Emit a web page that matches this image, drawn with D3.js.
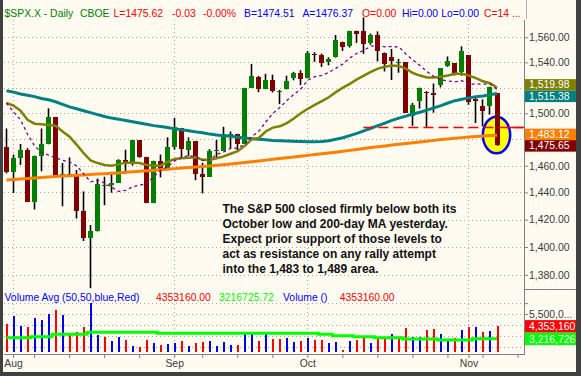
<!DOCTYPE html>
<html>
<head>
<meta charset="utf-8">
<script src="https://cdn.jsdelivr.net/npm/d3@7"></script>
<style>
  html, body { margin: 0; padding: 0; background: #404040; }
  svg { display: block; font-family: "Liberation Sans", Arial, sans-serif; }
</style>
</head>
<body>
<svg id="chart" width="581" height="376"></svg>
<script>
// $SPX.X daily bars, Jul 31 - Nov 7 2007
const days = [
  '2007-07-31','2007-08-01','2007-08-02','2007-08-03','2007-08-06','2007-08-07','2007-08-08','2007-08-09','2007-08-10','2007-08-13',
  '2007-08-14','2007-08-15','2007-08-16','2007-08-17','2007-08-20','2007-08-21','2007-08-22','2007-08-23','2007-08-24','2007-08-27',
  '2007-08-28','2007-08-29','2007-08-30','2007-08-31','2007-09-04','2007-09-05','2007-09-06','2007-09-07','2007-09-10','2007-09-11',
  '2007-09-12','2007-09-13','2007-09-14','2007-09-17','2007-09-18','2007-09-19','2007-09-20','2007-09-21','2007-09-24','2007-09-25',
  '2007-09-26','2007-09-27','2007-09-28','2007-10-01','2007-10-02','2007-10-03','2007-10-04','2007-10-05','2007-10-08','2007-10-09',
  '2007-10-10','2007-10-11','2007-10-12','2007-10-15','2007-10-16','2007-10-17','2007-10-18','2007-10-19','2007-10-22','2007-10-23',
  '2007-10-24','2007-10-25','2007-10-26','2007-10-29','2007-10-30','2007-10-31','2007-11-01','2007-11-02','2007-11-05','2007-11-06',
  '2007-11-07'
];
const futureDays = ['2007-11-08', '2007-11-09', '2007-11-12'];

const opens = [
  1473.90,1455.18,1465.46,1472.18,1433.04,1467.62,1476.22,1497.21,1453.09,1453.42,
  1452.87,1426.15,1406.64,1411.26,1445.55,1445.55,1447.03,1464.05,1462.34,1479.36,
  1466.72,1432.01,1463.67,1457.61,1473.96,1488.76,1472.03,1478.55,1453.50,1451.69,
  1471.10,1471.47,1483.95,1484.24,1476.63,1519.75,1528.69,1518.75,1525.75,1516.34,
  1518.62,1527.32,1531.24,1527.29,1546.96,1545.80,1539.91,1543.84,1556.51,1553.18,
  1564.98,1564.72,1555.41,1562.25,1547.81,1544.44,1539.29,1540.00,1497.79,1509.30,
  1516.61,1516.15,1522.17,1536.92,1539.42,1532.15,1545.79,1511.07,1505.61,1505.33,
  1515.46
];
const highs = [
  1488.30,1468.38,1476.43,1473.23,1467.67,1488.30,1503.89,1497.21,1462.02,1466.29,
  1456.74,1440.78,1415.97,1450.33,1451.75,1455.32,1464.86,1472.06,1479.40,1479.36,
  1466.72,1463.76,1468.43,1481.47,1496.40,1488.76,1481.49,1478.55,1462.25,1472.48,
  1479.50,1489.58,1485.99,1484.24,1519.89,1538.74,1529.14,1530.89,1530.18,1518.27,
  1529.39,1532.46,1533.74,1549.02,1548.01,1546.99,1544.02,1561.91,1556.51,1565.26,
  1565.42,1576.09,1563.03,1564.74,1547.81,1550.66,1542.79,1540.00,1508.06,1520.01,
  1517.23,1523.24,1535.53,1544.67,1539.42,1552.76,1545.79,1513.15,1510.84,1520.77,
  1515.46
];
const lows = [
  1454.25,1439.59,1460.58,1432.80,1427.39,1455.80,1476.22,1453.09,1429.74,1451.54,
  1420.78,1404.36,1370.60,1411.26,1430.54,1439.76,1447.03,1453.88,1460.11,1465.98,
  1432.01,1432.01,1451.25,1457.61,1472.15,1466.34,1467.41,1449.07,1439.29,1451.69,
  1465.75,1471.47,1473.18,1471.82,1476.63,1519.75,1516.42,1518.75,1516.15,1507.13,
  1518.62,1525.81,1521.99,1527.25,1540.37,1536.34,1537.63,1543.84,1549.00,1551.82,
  1555.46,1546.72,1554.09,1540.81,1532.74,1526.01,1531.76,1500.26,1490.40,1503.61,
  1489.56,1500.46,1520.18,1536.43,1529.55,1529.40,1506.66,1492.53,1489.95,1499.07,
  1475.04
];
const closes = [
  1455.27,1465.81,1472.20,1433.06,1467.67,1476.71,1497.49,1453.09,1453.64,1452.92,
  1426.54,1406.70,1411.27,1445.94,1445.55,1447.12,1464.07,1462.50,1479.37,1466.79,
  1432.36,1463.76,1457.64,1473.99,1489.42,1472.29,1478.55,1453.55,1451.70,1471.49,
  1471.56,1483.95,1484.25,1476.65,1519.78,1529.03,1518.75,1525.75,1517.73,1517.21,
  1525.42,1531.38,1526.75,1547.04,1546.63,1539.59,1542.84,1557.59,1552.58,1565.15,
  1562.47,1554.41,1561.80,1548.71,1538.53,1541.24,1540.08,1500.63,1506.33,1519.59,
  1515.88,1514.40,1535.28,1540.98,1531.02,1549.38,1508.44,1509.65,1502.17,1520.27,
  1475.62
];
// volume, millions (as shown by the chart)
const volumes = [
  4.58,5.32,4.40,4.33,5.13,4.95,5.50,5.87,5.41,3.78,
  3.84,4.28,6.49,3.57,3.35,3.01,3.35,3.11,2.55,2.43,
  3.11,2.86,2.65,2.74,2.86,3.01,2.58,2.80,2.89,3.01,
  2.55,2.89,2.65,2.65,3.78,3.84,3.01,3.78,3.20,3.20,
  3.29,2.95,3.01,3.29,3.11,3.11,2.80,2.89,2.18,3.01,
  3.11,3.32,2.86,3.23,3.29,3.69,3.20,4.21,3.38,3.38,
  4.03,4.12,3.66,3.20,3.29,4.03,4.30,4.30,3.84,3.94,
  4.353
];
const volAvg50 = [
  3.32,3.32,3.32,3.32,3.41,3.41,3.41,3.63,3.63,3.63,
  3.63,3.63,3.82,3.82,3.82,3.82,3.82,3.82,3.82,3.82,
  3.82,3.82,3.72,3.72,3.72,3.72,3.72,3.72,3.72,3.72,
  3.72,3.72,3.72,3.72,3.72,3.72,3.72,3.72,3.72,3.72,
  3.72,3.72,3.72,3.72,3.72,3.63,3.63,3.50,3.50,3.50,
  3.41,3.41,3.41,3.32,3.32,3.32,3.32,3.20,3.20,3.20,
  3.20,3.20,3.11,3.11,3.11,3.11,3.11,3.22,3.22,3.22,
  3.22
];
// moving averages
const ma10 = [
  1508,1501,1495,1484,1475,1470,1468,1466,1464,1462.8,
  1459.9,1454.0,1447.9,1449.2,1447.0,1444.0,1440.7,1441.6,1444.2,1445.6,
  1446.2,1451.9,1456.5,1459.3,1463.7,1466.2,1467.7,1466.8,1464.0,1464.5,
  1468.4,1470.4,1473.1,1473.3,1476.4,1482.1,1486.1,1493.3,1499.9,1504.5,
  1509.9,1514.6,1518.9,1525.9,1528.6,1529.6,1532.0,1535.2,1538.7,1543.5,
  1547.2,1549.5,1553.0,1553.2,1552.4,1552.5,1552.3,1546.6,1541.9,1537.4,
  1532.7,1528.7,1526.1,1525.3,1524.5,1525.4,1522.2,1523.1,1522.7,1522.8,
  1518.7
];
const ma20 = [
  1508,1506,1502,1495,1492,1491.5,1491,1490.5,1486,1482,
  1476,1469.5,1464,1462,1460.5,1460,1461,1462.3,1462.3,1462,
  1460.5,1460,1460,1463,1465,1465.6,1466,1466.4,1464.4,1464.5,
  1465.6,1467,1469,1471,1475,1480,1481,1486,1489,1490,
  1492.5,1496,1500,1503.5,1506.5,1509.5,1512.5,1516.5,1520,1523,
  1526.5,1529.5,1532.5,1535,1536.5,1537.5,1537,1535,1531.5,1529.5,
  1528,1528,1528.5,1529.5,1531,1531,1529.5,1527.5,1525,1523.5,
  1520
];
const ma50 = [
  1517.5,1516.5,1515.0,1514.0,1513.0,1511.5,1510.5,1509.0,1507.0,1505.0,
  1503.5,1502.0,1500.5,1499.0,1497.5,1496.3,1495.5,1494.5,1493.5,1492.5,
  1491.5,1490.5,1489.8,1489.0,1488.0,1487.3,1486.5,1485.7,1485.0,1484.0,
  1483.3,1482.8,1482.3,1481.6,1481.0,1480.5,1480.0,1479.6,1479.2,1479.0,
  1478.8,1478.6,1478.4,1478.2,1478.1,1478.3,1479.0,1480.0,1481.2,1482.8,
  1484.5,1486.5,1488.5,1490.5,1492.5,1494.5,1496.3,1497.8,1499.5,1500.8,
  1502.5,1504.2,1506.0,1508.0,1509.8,1511.0,1512.0,1512.8,1513.5,1514.4,
  1515.4
];
const ma200 = [
  1449.3,1449.6,1450.0,1450.4,1450.8,1451.1,1451.5,1451.9,1452.2,1452.5,
  1452.8,1453.1,1453.4,1453.7,1454.0,1454.3,1454.6,1455.0,1455.4,1455.8,
  1456.2,1456.6,1457.0,1457.4,1457.8,1458.2,1458.6,1459.0,1459.4,1459.8,
  1460.3,1460.8,1461.3,1461.8,1462.4,1463.0,1463.6,1464.2,1464.8,1465.4,
  1466.0,1466.6,1467.2,1467.8,1468.4,1469.0,1469.6,1470.2,1470.9,1471.6,
  1472.3,1473.0,1473.7,1474.4,1475.0,1475.6,1476.2,1476.8,1477.4,1478.0,
  1478.6,1479.2,1479.8,1480.3,1480.8,1481.3,1481.8,1482.2,1482.6,1482.9,
  1483.1
];

const priceTicks = [1380, 1400, 1420, 1440, 1460, 1480, 1500, 1520, 1540, 1560];
const volGridTicks = [2.5, 3.5, 4.5, 5.5, 6.5];
const volAxisTicks = [5.5, 6.5];

const supportLevel = 1489.5;
const supportFrom = '2007-10-11';
const circled = { from: 68.05, to: 71.95, lo: 1469.4, hi: 1497.4 };

const priceBadges = [
  { v: 1519.98, text: '1,519.98', color: '#808000' },
  { v: 1515.38, text: '1,515.38', color: '#008080' },
  { v: 1483.12, text: '1,483.12', color: '#ff8000' },
  { v: 1475.65, text: '1,475.65', color: '#800000' }
];
const volBadges = [
  { v: 4.35316, text: '4,353,160', color: '#ff0000' },
  { v: 3.216726, text: '3,216,726', color: '#00ff00' }
];

const titleItems = [
  ['$SPX.X - Daily', '#008000'], ['CBOE', '#008000'], ['L=1475.62', '#ff0000'],
  ['-0.03', '#ff0000'], ['-0.00%', '#ff0000'], ['B=1474.51', '#0000ff'],
  ['A=1476.37', '#0000ff'], ['O=0.00', '#ff0000'], ['Hi=0.00', '#0000ff'],
  ['Lo=0.00', '#0000ff'], ['C=14 ...', '#ff0000']
];
const volItems = [
  ['Volume Avg (50,50,blue,Red)', '#0000ff'], ['4353160.00', '#ff0000'],
  ['3216725.72', '#00ff00'], ['Volume ()', '#0000ff'], ['4353160.00', '#ff0000']
];
const noteLines = [
  'The S&P 500 closed firmly below both its',
  'October low and 200-day MA yesterday.',
  'Expect prior support of those levels to',
  'act as resistance on any rally attempt',
  'into the 1,483 to 1,489 area.'
];

// ---- layout ----
const W = 581, H = 376;
const plotL = 4, plotR = 524, frameR = 576;
const priceTop = 20, priceBot = 289, volBot = 352, axisY = 354;
const titleX = [4.5, 80, 113.6, 172, 203, 244, 302.4, 362, 402, 441.3, 484];
const volItemX = [4.5, 156, 219, 283, 339.7];
const fontSize = 10.4;

const svg = d3.select('#chart');
svg.append('rect').attr('width', W).attr('height', H).attr('fill', '#fffbf0');

const x = d3.scaleLinear().domain([0, days.length - 1]).range([6, 496.5]);
const y = d3.scaleLog().domain([1370, 1574]).range([priceBot, priceTop]);
const yv = d3.scaleLinear().domain([2.0, 7.806]).range([volBot, priceBot]);
const col = i => Math.round(x(i));

const parse = d3.timeParse('%Y-%m-%d');
const axisDays = days.concat(futureDays).map(parse);
const monthIdx = [], weekIdx = [];
axisDays.forEach((d, i) => {
  if (i === 0) return;
  const p = axisDays[i - 1];
  if (d.getMonth() !== p.getMonth()) monthIdx.push(i);
  if (+d3.timeMonday.floor(d) !== +d3.timeMonday.floor(p)) weekIdx.push(i);
});
const tickIdx = Array.from(new Set(weekIdx.concat(monthIdx))).sort((a, b) => a - b);

// grid
const grid = svg.append('g')
  .attr('stroke', '#a9a9a9').attr('stroke-width', 1).attr('stroke-dasharray', '1,3');
grid.selectAll('.hp').data(priceTicks).enter().append('line')
  .attr('x1', plotL).attr('x2', plotR)
  .attr('y1', d => Math.round(y(d)) + 0.5).attr('y2', d => Math.round(y(d)) + 0.5);
grid.selectAll('.hv').data(volGridTicks).enter().append('line')
  .attr('x1', plotL).attr('x2', plotR)
  .attr('y1', d => Math.round(yv(d)) + 0.5).attr('y2', d => Math.round(yv(d)) + 0.5);
grid.selectAll('.vm').data(monthIdx).enter().append('line')
  .attr('x1', d => col(d) + 0.5).attr('x2', d => col(d) + 0.5)
  .attr('y1', priceTop).attr('y2', volBot);

// circled last bar
svg.append('ellipse')
  .attr('cx', (x(circled.from) + x(circled.to)) / 2)
  .attr('cy', (y(circled.lo) + y(circled.hi)) / 2)
  .attr('rx', (x(circled.to) - x(circled.from)) / 2)
  .attr('ry', (y(circled.lo) - y(circled.hi)) / 2)
  .attr('fill', '#ffff00').attr('stroke', '#0000ff').attr('stroke-width', 2.5);

// candles
const idx = d3.range(days.length);
const candles = svg.append('g');
candles.selectAll('line').data(idx).enter().append('line')
  .attr('x1', i => col(i) + 0.5).attr('x2', i => col(i) + 0.5)
  .attr('y1', i => y(highs[i])).attr('y2', i => y(lows[i]))
  .attr('stroke', '#000').attr('stroke-width', 1.6);
candles.selectAll('rect').data(idx).enter().append('rect')
  .attr('x', i => col(i) - 2).attr('width', 5)
  .attr('y', i => Math.round(y(Math.max(opens[i], closes[i]))))
  .attr('height', i => Math.max(1, Math.round(y(Math.min(opens[i], closes[i]))) - Math.round(y(Math.max(opens[i], closes[i])))))
  .attr('fill', i => closes[i] >= opens[i] ? '#008000' : '#800000')
  .attr('shape-rendering', 'crispEdges');

// moving averages
const maLine = d3.line().x((d, i) => x(i) + 0.5).y(d => y(d));
svg.append('path').attr('d', maLine(ma200)).attr('fill', 'none')
  .attr('stroke', '#ff8000').attr('stroke-width', 3);
svg.append('path').attr('d', maLine(ma50)).attr('fill', 'none')
  .attr('stroke', '#008080').attr('stroke-width', 3);
svg.append('path').attr('d', maLine(ma20)).attr('fill', 'none')
  .attr('stroke', '#808000').attr('stroke-width', 2.5);
svg.append('path').attr('d', maLine(ma10)).attr('fill', 'none')
  .attr('stroke', '#800080').attr('stroke-width', 1.3).attr('stroke-dasharray', '3,3');

// support line at the October low
const sy = Math.round(y(supportLevel)) + 0.5;
svg.append('line')
  .attr('x1', x(days.indexOf(supportFrom))).attr('x2', plotR)
  .attr('y1', sy).attr('y2', sy)
  .attr('stroke', '#ff0000').attr('stroke-width', 1.5).attr('stroke-dasharray', '10,5');
svg.append('line')
  .attr('x1', x(days.length - 1) + 10).attr('x2', plotR)
  .attr('y1', sy).attr('y2', sy)
  .attr('stroke', '#ff0000').attr('stroke-width', 1.5);

// volume
svg.append('g').selectAll('rect').data(idx).enter().append('rect')
  .attr('x', i => col(i)).attr('width', 2)
  .attr('y', i => Math.round(yv(volumes[i])))
  .attr('height', i => volBot - Math.round(yv(volumes[i])))
  .attr('fill', i => (i > 0 && closes[i] <= closes[i - 1]) || (i === 0 && closes[i] < opens[i]) ? '#ff0000' : '#0000ff')
  .attr('shape-rendering', 'crispEdges');
svg.append('path')
  .attr('d', d3.line().curve(d3.curveStep).x((d, i) => x(i) + 0.5).y(d => yv(d))(volAvg50))
  .attr('fill', 'none').attr('stroke', '#00ff00').attr('stroke-width', 3);

// value badges on the right axis; neighbours that collide are pushed apart
function placeBadges(list, scale, h) {
  const items = list.map(b => Object.assign({ cy: scale(b.v), h: h }, b))
    .sort((a, b) => a.cy - b.cy);
  for (let k = 1; k < items.length; k++) {
    const overlap = items[k - 1].cy + h - items[k].cy;
    if (overlap > 0) {
      items[k - 1].cy -= overlap / 2;
      items[k].cy += overlap / 2;
    }
  }
  return items;
}
const badgeItems = placeBadges(priceBadges, y, 11.5).concat(placeBadges(volBadges, yv, 12.5));

// axes
const axisColor = '#808080', textColor = '#3a3a3a';
const yAxis = svg.append('g').attr('transform', `translate(${plotR},0)`)
  .call(d3.axisRight(y).tickValues(priceTicks).tickSize(4).tickPadding(1)
    .tickFormat(d3.format(',.2f')));
const vAxis = svg.append('g').attr('transform', `translate(${plotR},0)`)
  .call(d3.axisRight(yv).tickValues(volAxisTicks).tickSize(4).tickPadding(1)
    .tickFormat(v => v === 5.5 ? d3.format(',')(v * 1e6).slice(0, 7) + '...' : ''));
const xAxis = svg.append('g').attr('transform', `translate(0,${axisY})`)
  .call(d3.axisBottom(x).tickValues(tickIdx).tickSize(4).tickPadding(2)
    .tickFormat(i => monthIdx.includes(i) ? d3.timeFormat('%b')(axisDays[i]) : ''));
[yAxis, vAxis, xAxis].forEach(g => {
  g.select('.domain').remove();
  g.selectAll('line').attr('stroke', axisColor);
  g.selectAll('text').attr('fill', textColor).attr('font-size', fontSize)
    .attr('font-family', '"Liberation Sans", Arial, sans-serif');
});
// price labels that sit under a value badge are hidden by it
yAxis.selectAll('.tick').filter(p => badgeItems.some(b =>
  Math.abs(y(p) - b.cy) < b.h / 2 + 5)).select('text').remove();

svg.append('line').attr('x1', plotR + 0.5).attr('x2', plotR + 0.5)
  .attr('y1', priceTop).attr('y2', axisY).attr('stroke', axisColor);
svg.append('line').attr('x1', plotL).attr('x2', plotR + 1)
  .attr('y1', axisY + 0.5).attr('y2', axisY + 0.5).attr('stroke', axisColor);
svg.append('line').attr('x1', plotR).attr('x2', frameR)
  .attr('y1', priceBot + 0.5).attr('y2', priceBot + 0.5).attr('stroke', axisColor);
svg.append('line').attr('x1', 526.5).attr('x2', 526.5)
  .attr('y1', 0).attr('y2', priceTop - 1).attr('stroke', '#b0b0b0');

const badgeG = svg.append('g');
badgeItems.forEach(b => {
  const top = b.cy - b.h / 2;
  badgeG.append('rect').attr('x', plotR + 1).attr('width', frameR - plotR - 1)
    .attr('y', top).attr('height', b.h).attr('fill', b.color);
  badgeG.append('text').attr('x', 529).attr('y', top + b.h - 2.4)
    .attr('fill', '#ffffff').attr('font-size', fontSize).text(b.text);
});

// header texts
svg.append('g').selectAll('text').data(titleItems).enter().append('text')
  .attr('x', (d, i) => titleX[i]).attr('y', 16.5)
  .attr('font-size', fontSize).attr('fill', d => d[1]).text(d => d[0]);
svg.append('g').selectAll('text').data(volItems).enter().append('text')
  .attr('x', (d, i) => volItemX[i]).attr('y', 301)
  .attr('font-size', fontSize).attr('fill', d => d[1]).text(d => d[0]);

// commentary
svg.append('g').selectAll('text').data(noteLines).enter().append('text')
  .attr('x', 222.5).attr('y', (d, i) => 212.8 + i * 15)
  .attr('font-size', 12).attr('font-weight', 'bold').attr('fill', '#111')
  .text(d => d);

// dark frame
svg.append('rect').attr('x', 0).attr('y', 0).attr('width', 3).attr('height', H).attr('fill', '#404040');
svg.append('rect').attr('x', frameR).attr('y', 0).attr('width', W - frameR).attr('height', H).attr('fill', '#404040');
svg.append('rect').attr('x', 0).attr('y', 372).attr('width', W).attr('height', H - 372).attr('fill', '#404040');
</script>
</body>
</html>
